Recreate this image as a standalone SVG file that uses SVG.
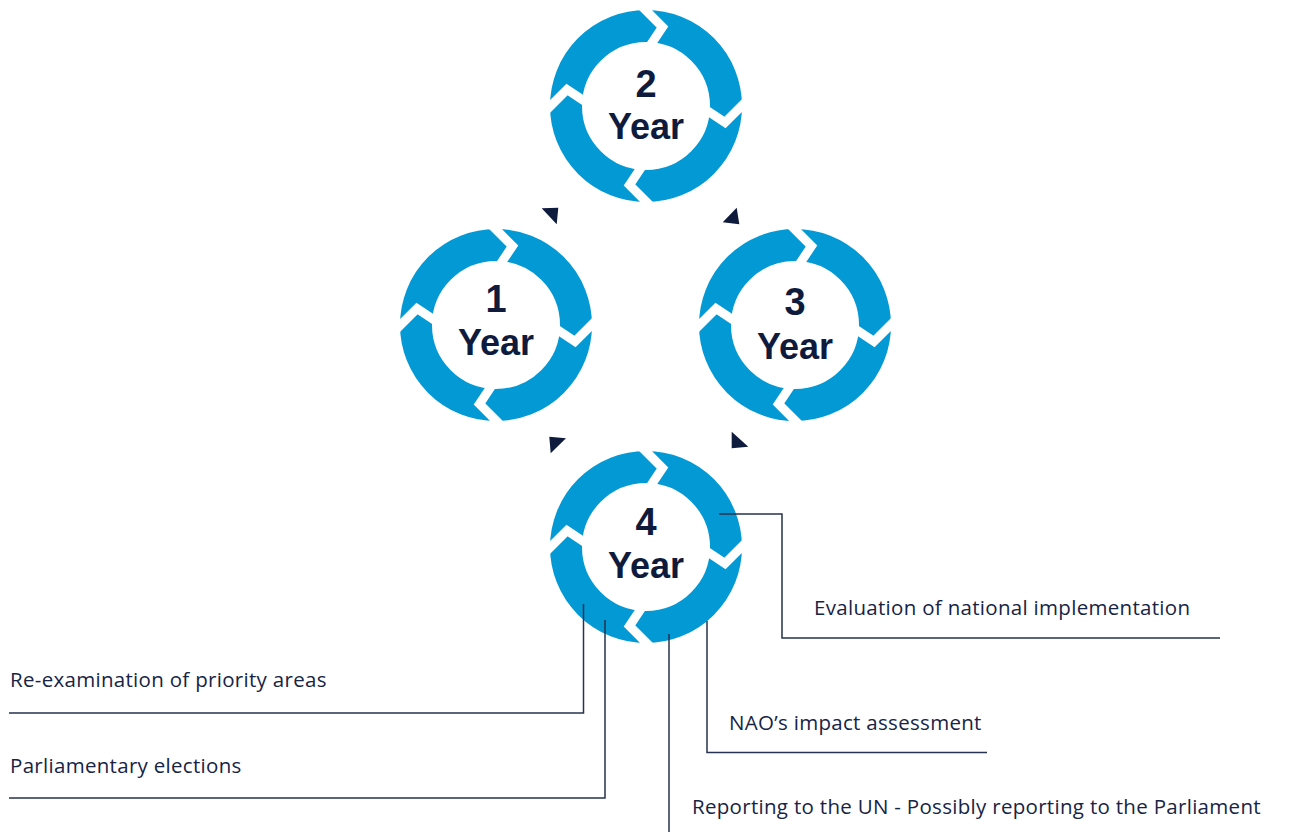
<svg xmlns="http://www.w3.org/2000/svg" xmlns:xlink="http://www.w3.org/1999/xlink" width="1290" height="832" viewBox="0 0 1290 832">
<style>
.ring{fill:none;stroke:#0399d5;stroke-width:32}
.gap{fill:none;stroke:#ffffff;stroke-width:9;stroke-linejoin:miter;stroke-miterlimit:10}
.num{font-family:"Liberation Sans",Arial,sans-serif;font-weight:700;font-size:38px;fill:#0f1b3d;text-anchor:middle}
.yr{font-family:"Liberation Sans",Arial,sans-serif;font-weight:700;font-size:36px;fill:#0f1b3d;text-anchor:middle}
.lbl{font-family:"Open Sans","Liberation Sans",sans-serif;font-size:20.5px;fill:#172445;letter-spacing:0.3px}
.ln{fill:none;stroke:#26324f;stroke-width:1.5}
.tri{fill:#0f1b3d}
</style>
<defs>
<g id="cyc">
<circle class="ring" cx="0" cy="0" r="80"/>
<polyline class="gap" points="-4.5,-100 16.5,-79 3.5,-59.5"/>
<polyline class="gap" points="-4.5,-100 16.5,-79 3.5,-59.5" transform="rotate(90)"/>
<polyline class="gap" points="-4.5,-100 16.5,-79 3.5,-59.5" transform="rotate(180)"/>
<polyline class="gap" points="-4.5,-100 16.5,-79 3.5,-59.5" transform="rotate(270)"/>
</g>
</defs>
<rect width="1290" height="832" fill="#ffffff"/>
<g id="year2">
<use xlink:href="#cyc" href="#cyc" transform="translate(646,106)"/>
<text class="num" x="646" y="96.5">2</text>
<text class="yr" x="646" y="138.5">Year</text>
</g>
<g id="year1">
<use xlink:href="#cyc" href="#cyc" transform="translate(496,325)"/>
<text class="num" x="496" y="312">1</text>
<text class="yr" x="496" y="355">Year</text>
</g>
<g id="year3">
<use xlink:href="#cyc" href="#cyc" transform="translate(795,325)"/>
<text class="num" x="795" y="315">3</text>
<text class="yr" x="795" y="359">Year</text>
</g>
<g id="year4">
<use xlink:href="#cyc" href="#cyc" transform="translate(646,547)"/>
<text class="num" x="646" y="535">4</text>
<text class="yr" x="646" y="578">Year</text>
</g>
<g id="arrows">
<polygon class="tri" points="541.7,208.3 558.3,207.7 556.7,224.3"/>
<polygon class="tri" points="736.7,207.7 722.7,222.3 739.3,224.3"/>
<polygon class="tri" points="549.3,436.7 566,438.3 550.7,453.3"/>
<polygon class="tri" points="731.7,431.7 748.3,446.7 731.7,448.3"/>
</g>
<g id="connectors">
<polyline class="ln" points="583.5,604 583.5,713 9,713"/>
<polyline class="ln" points="605,620 605,798 9,798"/>
<polyline class="ln" points="669,634 669,832"/>
<polyline class="ln" points="707,621 707,752.5 987,752.5"/>
<polyline class="ln" points="719,514 782,514 782,638 1220,638"/>
</g>
<g id="labels">
<text class="lbl" x="10" y="687">Re-examination of priority areas</text>
<text class="lbl" x="10" y="773">Parliamentary elections</text>
<text class="lbl" x="814" y="615">Evaluation of national implementation</text>
<text class="lbl" x="729" y="730">NAO’s impact assessment</text>
<text class="lbl" x="692" y="814">Reporting to the UN - Possibly reporting to the Parliament</text>
</g>
</svg>
